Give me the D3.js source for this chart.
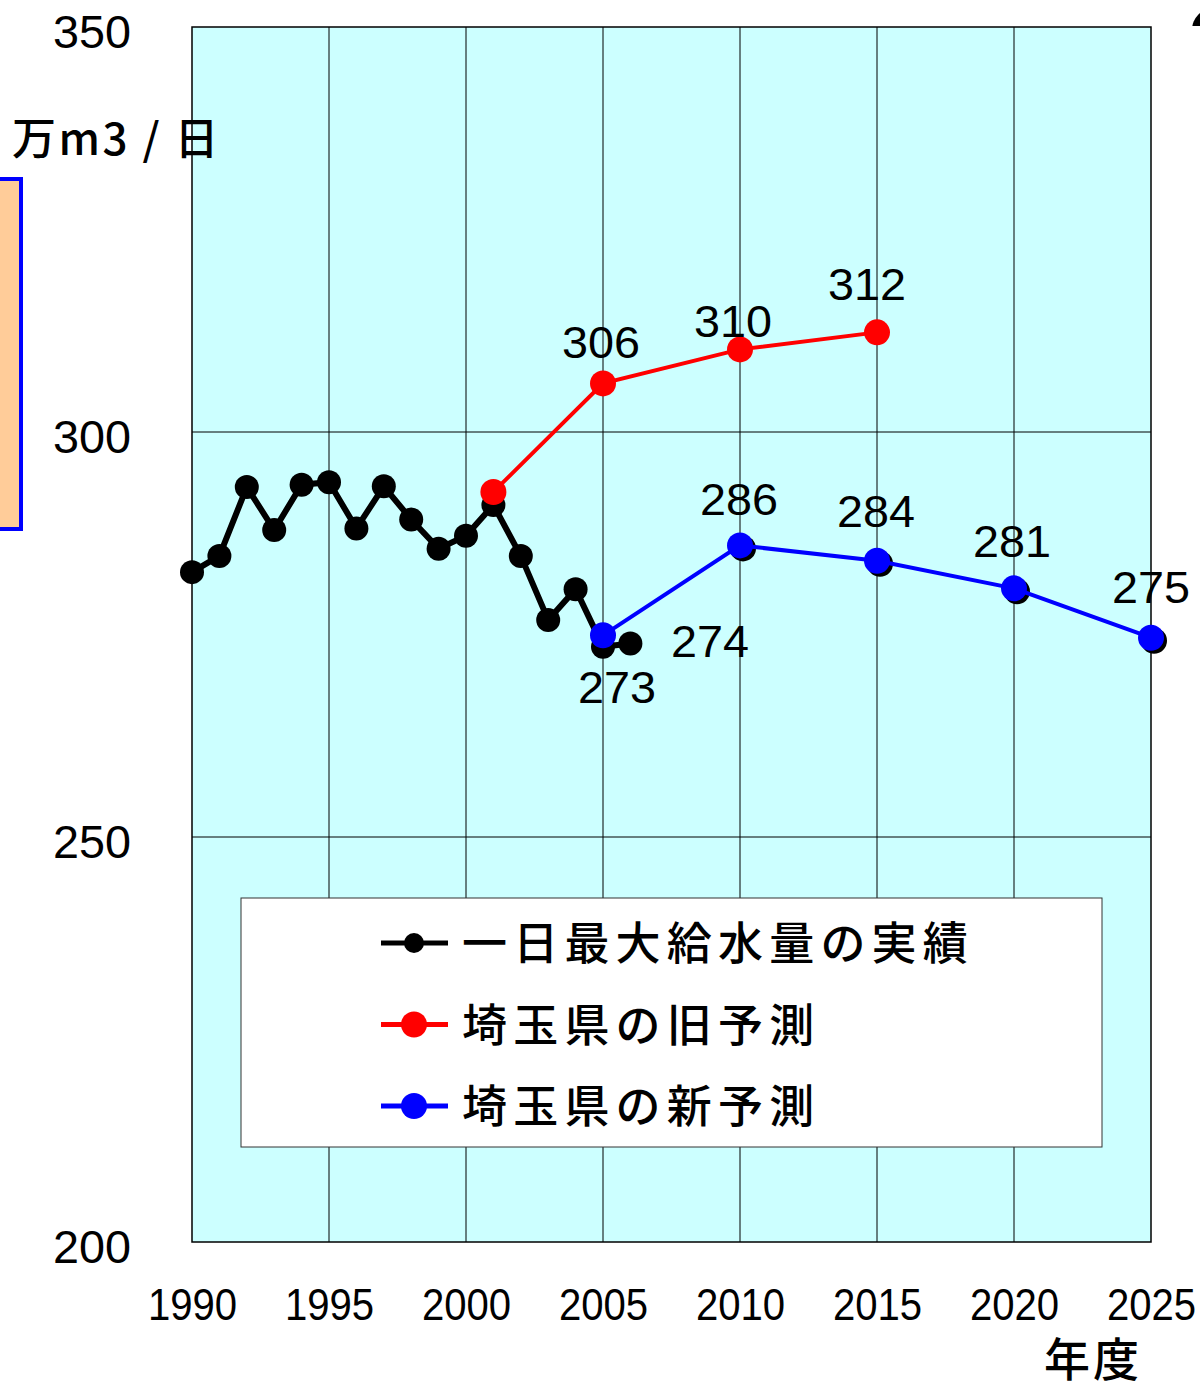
<!DOCTYPE html>
<html lang="ja">
<head>
<meta charset="UTF-8" />
<title>一日最大給水量</title>
<script src="https://d3js.org/d3.v7.min.js"></script>
<style>
  body { margin: 0; background: #fff; }
  svg { display: block; }
  .num { font-family: "Liberation Sans", sans-serif; fill: #000; }
  .jp { font-family: "Noto Sans CJK JP", sans-serif; font-weight: 500; fill: #000; }
</style>
</head>
<body>
<div id="chart"></div>
<script>
// 実績 (一日最大給水量)
const actualYears = [1990, 1991, 1992, 1993, 1994, 1995, 1996, 1997, 1998, 1999, 2000, 2001, 2002, 2003, 2004, 2005, 2006];
const actualValues = [282.7, 284.7, 293.2, 287.9, 293.5, 293.8, 288.1, 293.3, 289.2, 285.6, 287.2, 291.0, 284.7, 276.8, 280.6, 273.5, 273.9];
// 埼玉県の旧予測
const oldYears = [2001, 2005, 2010, 2015];
const oldValues = [292.6, 306, 310.2, 312.3];
const oldLabels = ['', '306', '310', '312'];
// 埼玉県の新予測
const newYears = [2005, 2010, 2015, 2020, 2025];
const newValues = [274.9, 286, 284.1, 280.7, 274.6];
const newLabels = ['', '286', '284', '281', '275'];

const yTicks = [200, 250, 300, 350];
const xTicks = [1990, 1995, 2000, 2005, 2010, 2015, 2020, 2025];
const legendNames = ['一日最大給水量の実績', '埼玉県の旧予測', '埼玉県の新予測'];
const legendColors = ['#000', '#ff0000', '#0000ff'];

const W = 1200, H = 1382;
const svg = d3.select('#chart').append('svg').attr('width', W).attr('height', H);

const x = d3.scaleLinear().domain([1990, 2025]).range([192, 1151]);
const y = d3.scaleLinear().domain([200, 350]).range([1242, 27]);

// 数字は細めの字形なので textLength で幅を合わせる
function numText(sel, perChar) {
  sel.attr('class', 'num')
    .style('font-size', '46px')
    .attr('lengthAdjust', 'spacingAndGlyphs')
    .attr('textLength', d => String(d).length * perChar);
}

// 左のオレンジの枠
svg.append('rect').attr('x', -10).attr('y', 179).attr('width', 31).attr('height', 350)
  .attr('fill', '#ffcc99').attr('stroke', '#0000ff').attr('stroke-width', 4);

// 右上の切れた記号
svg.append('clipPath').attr('id', 'topclip')
  .append('rect').attr('x', 1150).attr('y', 0).attr('width', 50).attr('height', 26);
svg.append('circle').attr('cx', 1214).attr('cy', 30).attr('r', 22).attr('fill', '#000')
  .attr('clip-path', 'url(#topclip)');

// プロット領域
svg.append('rect').attr('x', x(1990)).attr('y', y(350))
  .attr('width', x(2025) - x(1990)).attr('height', y(200) - y(350))
  .attr('fill', '#ccffff');

// グリッド
svg.append('g').selectAll('line').data(xTicks.slice(1, -1)).join('line')
  .attr('x1', d => x(d)).attr('x2', d => x(d))
  .attr('y1', y(350)).attr('y2', y(200))
  .attr('stroke', '#000').attr('stroke-width', 1);
svg.append('g').selectAll('line').data([250, 300]).join('line')
  .attr('x1', x(1990)).attr('x2', x(2025))
  .attr('y1', d => y(d)).attr('y2', d => y(d))
  .attr('stroke', '#000').attr('stroke-width', 1);

svg.append('rect').attr('x', x(1990)).attr('y', y(350))
  .attr('width', x(2025) - x(1990)).attr('height', y(200) - y(350))
  .attr('fill', 'none').attr('stroke', '#000').attr('stroke-width', 1.5);

// 目盛りラベル
svg.append('g').selectAll('text').data(yTicks).join('text')
  .call(numText, 26)
  .attr('x', 131).attr('y', d => y(d) + 21)
  .attr('text-anchor', 'end')
  .text(d => d);
svg.append('g').selectAll('text').data(xTicks).join('text')
  .call(numText, 22.3)
  .style('font-size', '44px')
  .attr('x', d => x(d) + 0.5).attr('y', 1320)
  .attr('text-anchor', 'middle')
  .text(d => d);

svg.append('text').attr('class', 'jp').attr('x', 12).attr('y', 155)
  .style('font-size', '44px').style('letter-spacing', '2.5px').text('万m3 / 日');
svg.append('text').attr('class', 'jp').attr('x', 1044).attr('y', 1376)
  .style('font-size', '46px').style('letter-spacing', '3px').text('年度');

// 系列
const line = d3.line().x(d => x(d[0])).y(d => y(d[1]));
const actual = actualYears.map((d, i) => [d, actualValues[i]]);
const oldP = oldYears.map((d, i) => [d, oldValues[i], oldLabels[i]]);
const newP = newYears.map((d, i) => [d, newValues[i], newLabels[i]]);

svg.append('path').datum(actual).attr('d', line)
  .attr('fill', 'none').attr('stroke', '#000').attr('stroke-width', 6);
svg.append('g').selectAll('circle').data(actual).join('circle')
  .attr('cx', d => x(d[0])).attr('cy', d => y(d[1])).attr('r', 12).attr('fill', '#000');

svg.append('path').datum(oldP).attr('d', line)
  .attr('fill', 'none').attr('stroke', '#ff0000').attr('stroke-width', 4);
svg.append('g').selectAll('circle').data(oldP).join('circle')
  .attr('cx', d => x(d[0])).attr('cy', d => y(d[1])).attr('r', 13).attr('fill', '#ff0000');

// 新予測 (影つき)
svg.append('g').selectAll('circle').data(newP.slice(1)).join('circle')
  .attr('cx', d => x(d[0]) + 3).attr('cy', d => y(d[1]) + 3).attr('r', 13).attr('fill', '#000');
svg.append('path').datum(newP).attr('d', line)
  .attr('fill', 'none').attr('stroke', '#0000ff').attr('stroke-width', 4);
svg.append('g').selectAll('circle').data(newP).join('circle')
  .attr('cx', d => x(d[0])).attr('cy', d => y(d[1])).attr('r', 13).attr('fill', '#0000ff');

// データラベル
const oldOff = [[0, 0], [-2, -25], [-7, -12], [-10, -32]];
const newOff = [[0, 0], [-1, -30], [-1, -34], [-2, -31], [0, -35]];
svg.append('g').selectAll('text').data(oldP).join('text')
  .filter(d => d[2])
  .call(s => s.attr('class', 'num').style('font-size', '45px')
    .attr('lengthAdjust', 'spacingAndGlyphs').attr('textLength', 78))
  .attr('text-anchor', 'middle')
  .attr('x', (d, i) => x(d[0]) + oldOff[oldYears.indexOf(d[0])][0])
  .attr('y', d => y(d[1]) + oldOff[oldYears.indexOf(d[0])][1])
  .text(d => d[2]);
svg.append('g').selectAll('text').data(newP).join('text')
  .filter(d => d[2])
  .call(s => s.attr('class', 'num').style('font-size', '45px')
    .attr('lengthAdjust', 'spacingAndGlyphs').attr('textLength', 78))
  .attr('text-anchor', 'middle')
  .attr('x', d => x(d[0]) + newOff[newYears.indexOf(d[0])][0])
  .attr('y', d => y(d[1]) + newOff[newYears.indexOf(d[0])][1])
  .text(d => d[2]);
svg.append('text').attr('class', 'num').style('font-size', '45px')
  .attr('lengthAdjust', 'spacingAndGlyphs').attr('textLength', 78)
  .attr('text-anchor', 'middle').attr('x', 617).attr('y', 703).text('273');
svg.append('text').attr('class', 'num').style('font-size', '45px')
  .attr('lengthAdjust', 'spacingAndGlyphs').attr('textLength', 78)
  .attr('text-anchor', 'middle').attr('x', 710).attr('y', 657).text('274');

// 凡例
const lg = svg.append('g');
lg.append('rect').attr('x', 241).attr('y', 898).attr('width', 861).attr('height', 249)
  .attr('fill', '#fff').attr('stroke', '#333').attr('stroke-width', 1);
const items = lg.selectAll('g').data(legendNames).join('g')
  .attr('transform', (d, i) => `translate(0,${943 + i * 81.5})`);
items.append('line').attr('x1', 381).attr('x2', 448).attr('y1', 0).attr('y2', 0)
  .attr('stroke', (d, i) => legendColors[i]).attr('stroke-width', 5);
items.append('circle').attr('cx', 414).attr('r', (d, i) => i === 0 ? 10 : 13)
  .attr('fill', (d, i) => legendColors[i]);
items.append('text').attr('class', 'jp').attr('x', 462).attr('y', 17)
  .style('font-size', '45px').style('letter-spacing', '6.2px')
  .text(d => d);
</script>
</body>
</html>
